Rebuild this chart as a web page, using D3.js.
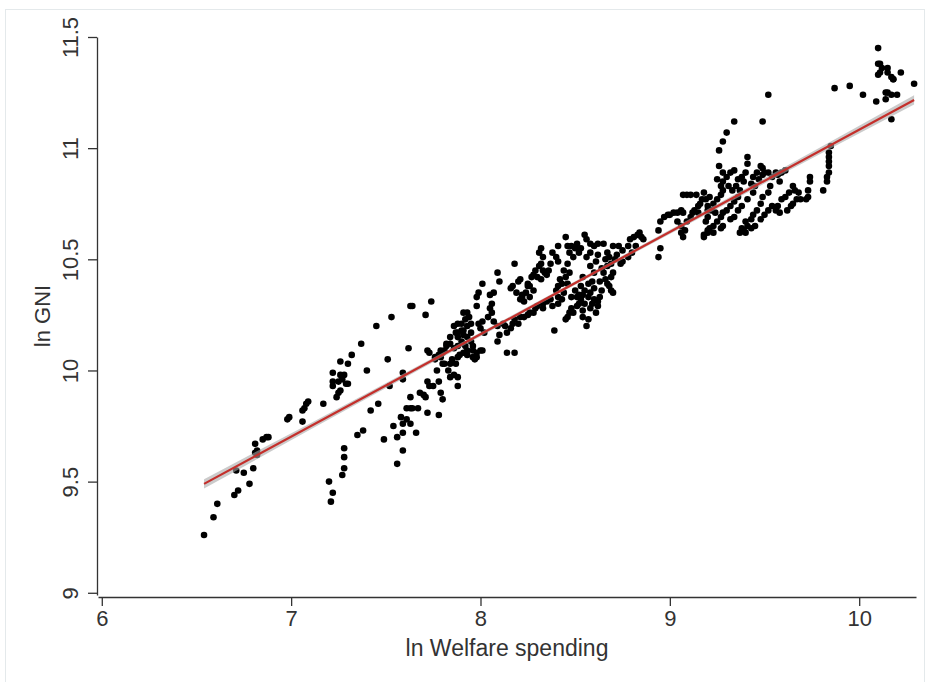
<!DOCTYPE html>
<html>
<head>
<meta charset="utf-8">
<script src="https://cdn.jsdelivr.net/npm/d3@7"></script>
<style>
  body { margin: 0; background: #fff; }
  text { font-family: "Liberation Sans", Arial, sans-serif; fill: #333; }
</style>
</head>
<body>
<div id="chart"></div>
<script>
// ln welfare spending (x) vs ln GNI (y)
var ptsLow = [[6.54,9.26],[6.59,9.34],[6.61,9.40],[6.70,9.44],[6.72,9.46],[6.71,9.55],[6.75,9.54],[6.78,9.49],
  [6.80,9.56],[6.81,9.63],[6.82,9.64],[6.81,9.67],[6.82,9.62],[6.85,9.69],[6.87,9.70],[6.88,9.70],[6.98,9.78],
  [6.99,9.79],[7.06,9.77],[7.06,9.82],[7.07,9.83],[7.08,9.85],[7.09,9.86],[7.17,9.85]];

var ptsA = [[7.22,9.99],[7.22,9.95],[7.22,9.93],[7.24,9.88],[7.25,9.90],[7.26,9.91],[7.26,9.98],[7.28,9.98],
  [7.25,9.95],[7.27,9.96],[7.29,9.94],[7.30,9.94],[7.26,10.04],[7.30,10.03],[7.32,10.07],[7.37,10.12],[7.40,10.00],
  [7.45,10.20],[7.53,10.24],[7.63,10.29],[7.64,10.29],[7.62,10.10],[7.51,10.05],[7.59,9.99],[7.59,9.96],[7.52,9.93],
  [7.46,9.85],[7.42,9.82],[7.38,9.73],[7.35,9.71],[7.28,9.65],[7.28,9.61],[7.28,9.56],[7.27,9.53],[7.20,9.50],
  [7.22,9.45],[7.21,9.41],[7.49,9.69],[7.54,9.75],[7.56,9.70],[7.58,9.79],[7.59,9.76],[7.59,9.72],[7.59,9.64],
  [7.56,9.58],[7.61,9.83],[7.63,9.83],[7.64,9.83],[7.67,9.83],[7.63,9.88],[7.61,9.78],[7.63,9.76],[7.66,9.72],
  [7.68,9.90],[7.70,9.89],[7.71,9.88],[7.72,9.81],[7.72,9.95],[7.73,9.93],[7.72,10.09],[7.73,10.08],[7.71,10.25]];

var ptsB = [[7.74,10.31],[7.75,9.93],[7.76,10.05],[7.77,10.00],[7.78,9.95],[7.79,10.09],[7.78,9.80],[7.79,9.90],
  [7.80,9.87],[7.82,10.12],[7.83,10.00],[7.84,9.97],[7.86,9.98],[7.88,9.97],[7.88,9.93],[7.81,10.03],[7.84,10.03],
  [7.85,10.05],[7.87,10.03],[7.88,10.06],[7.89,10.07],[7.86,10.10],[7.88,10.11],[7.90,10.13],[7.91,10.12],[7.92,10.11],
  [7.93,10.09],[7.91,10.08],[7.93,10.07],[7.88,10.17],[7.88,10.21],[7.90,10.21],[7.88,10.15],[7.91,10.16],[7.91,10.26],
  [7.93,10.26],[7.94,10.24],[7.95,10.21],[7.93,10.20],[7.95,10.17],[7.95,10.13],[7.96,10.11],[7.96,10.09],[7.97,10.05],
  [7.98,10.06],[7.98,10.29],[7.98,10.33],[7.99,10.35],[8.01,10.39],[7.99,10.21],[8.00,10.19],[8.01,10.22],[8.02,10.17],
  [8.01,10.09],[8.04,10.24],[8.05,10.28],[8.06,10.30],[8.05,10.34],[8.07,10.35],[8.06,10.26],[8.07,10.22],[8.09,10.20],
  [8.09,10.13],[8.09,10.44],[8.10,10.40],[7.91,10.18],[7.87,10.17],[7.93,10.15],[7.98,10.08],[8.00,10.09],[7.84,10.12],
  [7.82,10.11],[7.81,10.09],[7.80,10.08],[7.78,10.07],[7.79,10.06],[7.76,10.06],[7.80,10.03],[7.96,10.06],[7.84,10.15],
  [7.86,10.20],[7.90,10.18],[7.92,10.23]];

var ptsC = [[8.18,10.48],[8.16,10.37],[8.17,10.38],[8.20,10.40],[8.21,10.41],[8.19,10.35],[8.22,10.34],[8.24,10.35],
  [8.25,10.38],[8.25,10.39],[8.26,10.38],[8.27,10.42],[8.28,10.43],[8.29,10.45],[8.31,10.47],[8.32,10.48],[8.30,10.42],
  [8.32,10.41],[8.23,10.31],[8.21,10.32],[8.22,10.33],[8.26,10.33],[8.28,10.36],[8.33,10.45],[8.34,10.44],[8.36,10.45],
  [8.37,10.48],[8.35,10.43],[8.31,10.53],[8.32,10.55],[8.33,10.51],[8.38,10.53],[8.40,10.51],[8.41,10.49],[8.41,10.56],
  [8.45,10.60],[8.46,10.56],[8.47,10.53],[8.48,10.56],[8.50,10.55],[8.51,10.57],[8.52,10.53],[8.53,10.55],[8.49,10.51],
  [8.46,10.48],[8.44,10.45],[8.45,10.42],[8.43,10.39],[8.41,10.38],[8.40,10.36],[8.41,10.33],[8.42,10.41],[8.46,10.39],
  [8.47,10.44],[8.55,10.61],[8.56,10.59],[8.58,10.57],[8.60,10.56],[8.62,10.57],[8.56,10.51],[8.58,10.47],[8.61,10.49],
  [8.60,10.44],[8.54,10.42],[8.53,10.38],[8.55,10.36],[8.57,10.39],[8.59,10.40],[8.44,10.35],[8.48,10.33],[8.50,10.36],
  [8.52,10.34],[8.58,10.35],[8.60,10.37],[8.63,10.40],[8.64,10.46],[8.62,10.52],[8.58,10.53],[8.66,10.50]];

var ptsD = [[8.10,10.16],[8.13,10.20],[8.14,10.17],[8.16,10.19],[8.17,10.21],[8.14,10.08],[8.18,10.08],[8.12,10.21],
  [8.18,10.23],[8.20,10.21],[8.21,10.24],[8.23,10.24],[8.25,10.25],[8.26,10.26],[8.28,10.26],[8.29,10.28],[8.30,10.29],
  [8.33,10.28],[8.33,10.30],[8.35,10.31],[8.37,10.32],[8.38,10.29],[8.39,10.18],[8.41,10.30],[8.43,10.32],[8.45,10.23],
  [8.46,10.24],[8.47,10.26],[8.48,10.28],[8.49,10.26],[8.51,10.29],[8.52,10.30],[8.53,10.32],[8.54,10.27],[8.54,10.24],
  [8.56,10.20],[8.57,10.23],[8.58,10.28],[8.59,10.30],[8.60,10.32],[8.61,10.26],[8.62,10.31],[8.54,10.34],[8.51,10.33],
  [8.57,10.33],[8.55,10.30]];

var ptsE = [[8.65,10.57],[8.67,10.53],[8.68,10.51],[8.70,10.56],[8.69,10.48],[8.67,10.47],[8.65,10.44],[8.66,10.41],
  [8.67,10.39],[8.69,10.42],[8.70,10.44],[8.71,10.50],[8.72,10.52],[8.73,10.56],[8.75,10.54],[8.74,10.48],[8.75,10.49],
  [8.78,10.51],[8.78,10.56],[8.79,10.59],[8.80,10.53],[8.81,10.60],[8.83,10.61],[8.84,10.62],[8.85,10.60],[8.82,10.56],
  [8.69,10.36],[8.70,10.35],[8.68,10.38],[8.64,10.36],[8.63,10.33],[8.62,10.29],[8.86,10.59],[8.95,10.55],[8.94,10.51],
  [8.94,10.63],[8.95,10.67],[8.97,10.69],[8.99,10.70],[9.00,10.70],[9.02,10.71],[9.04,10.71],[9.06,10.72],[9.07,10.71],
  [9.04,10.67],[9.06,10.65],[9.06,10.62],[9.07,10.60],[9.08,10.63],[9.09,10.67],[9.11,10.69],[9.12,10.71],[9.13,10.72],
  [9.15,10.74],[9.16,10.75],[9.07,10.79],[9.09,10.79],[9.11,10.79],[9.14,10.79],[9.18,10.80],[9.17,10.77],[9.19,10.67],
  [9.18,10.60],[9.20,10.63],[9.20,10.69],[9.15,10.71]];

var ptsF = [[9.34,11.12],[9.49,11.12],[9.52,11.24],[9.30,11.07],[9.28,11.03],[9.26,10.99],[9.26,10.92],[9.28,10.89],
  [9.25,10.86],[9.27,10.83],[9.28,10.81],[9.19,10.77],[9.20,10.72],[9.20,10.74],[9.21,10.78],[9.23,10.75],[9.22,10.72],
  [9.24,10.71],[9.25,10.77],[9.27,10.79],[9.28,10.85],[9.30,10.87],[9.32,10.89],[9.34,10.90],[9.31,10.83],[9.33,10.81],
  [9.35,10.83],[9.36,10.86],[9.38,10.87],[9.40,10.89],[9.41,10.93],[9.41,10.96],[9.39,10.85],[9.37,10.81],[9.36,10.78],
  [9.34,10.76],[9.32,10.74],[9.30,10.72],[9.28,10.71],[9.27,10.69],[9.25,10.67],[9.23,10.65],[9.21,10.64],[9.20,10.62],
  [9.18,10.61],[9.23,10.62],[9.27,10.64],[9.28,10.65],[9.32,10.68],[9.34,10.69],[9.36,10.72],[9.38,10.74],[9.41,10.77],
  [9.44,10.80],[9.45,10.83],[9.47,10.86],[9.49,10.88],[9.50,10.89],[9.52,10.89],[9.48,10.92],[9.49,10.91],[9.46,10.89],
  [9.44,10.87],[9.43,10.84],[9.54,10.87],[9.56,10.89],[9.57,10.88],[9.59,10.89],[9.61,10.90],[9.58,10.85],[9.53,10.83],
  [9.52,10.80],[9.49,10.78],[9.48,10.75],[9.46,10.72],[9.44,10.70],[9.43,10.68],[9.41,10.65],[9.39,10.63],[9.37,10.62],
  [9.40,10.67],[9.43,10.64],[9.45,10.65],[9.48,10.68],[9.50,10.70],[9.52,10.72],[9.54,10.74],[9.56,10.72],[9.57,10.74],
  [9.59,10.77],[9.61,10.78],[9.58,10.71],[9.62,10.72],[9.64,10.74],[9.65,10.75],[9.67,10.77],[9.66,10.81],[9.68,10.80],
  [9.63,10.80],[9.65,10.83],[9.73,10.78],[9.73,10.81],[9.74,10.85],[9.74,10.87],[9.81,10.81],[9.69,10.77],[9.72,10.77],
  [9.38,10.64],[9.40,10.62]];

var ptsG = [[9.85,11.01],[9.84,10.98],[9.84,10.96],[9.84,10.94],[9.84,10.92],[9.84,10.89],[9.83,10.87],[9.83,10.85],
  [10.10,11.45],[10.10,11.38],[10.11,11.38],[10.12,11.36],[10.15,11.36],[10.15,11.34],[10.17,11.32],[10.18,11.31],
  [10.18,11.31],[10.10,11.33],[10.11,11.34],[10.22,11.34],[10.29,11.29],[9.87,11.27],[9.95,11.28],[10.02,11.24],
  [10.09,11.21],[10.14,11.22],[10.14,11.25],[10.15,11.25],[10.17,11.24],[10.20,11.24],[10.17,11.13]];

// fitted line with its confidence band
var fitX = [6.54, 7.4, 8.4, 9.4, 10.29];
var fitY = [9.49, 9.886, 10.347, 10.807, 11.217];
var fitLo = [9.469, 9.874, 10.339, 10.796, 11.196];
var fitHi = [9.511, 9.898, 10.355, 10.818, 11.238];

var xTicks = [6, 7, 8, 9, 10];
var yTicks = [9, 9.5, 10, 10.5, 11, 11.5];

var width = 928, height = 682;

var svg = d3.select("#chart").append("svg")
    .attr("width", width)
    .attr("height", height);

// light frame round the graph
svg.append("rect")
    .attr("x", 5.5).attr("y", 9.5)
    .attr("width", 919).attr("height", 690)
    .attr("fill", "none")
    .attr("stroke", "#e4e9eb");

var x = d3.scaleLinear().domain([5.98, 10.3]).range([98, 916]);
var y = d3.scaleLinear().domain([8.99, 11.5]).range([595, 37]);

var points = [].concat(ptsLow, ptsA, ptsB, ptsC, ptsD, ptsE, ptsF, ptsG);

svg.append("g").selectAll("circle")
    .data(points)
    .enter().append("circle")
    .attr("cx", function (d) { return x(d[0]); })
    .attr("cy", function (d) { return y(d[1]); })
    .attr("r", 3.3)
    .attr("fill", "#000");

var band = fitX.map(function (v, i) { return { x: v, y: fitY[i], lo: fitLo[i], hi: fitHi[i] }; });

svg.append("path")
    .datum(band)
    .attr("fill", "#a9a9a9")
    .attr("opacity", 0.6)
    .attr("d", d3.area()
        .curve(d3.curveMonotoneX)
        .x(function (d) { return x(d.x); })
        .y0(function (d) { return y(d.lo); })
        .y1(function (d) { return y(d.hi); }));

svg.append("path")
    .datum(band)
    .attr("fill", "none")
    .attr("stroke", "#c42f2b")
    .attr("stroke-width", 2.2)
    .attr("d", d3.line()
        .x(function (d) { return x(d.x); })
        .y(function (d) { return y(d.y); }));

// axes
var xAxis = svg.append("g")
    .attr("transform", "translate(0,597)")
    .call(d3.axisBottom(x).tickValues(xTicks).tickSize(9).tickSizeOuter(0).tickFormat(d3.format("d")));
xAxis.selectAll("text")
    .attr("y", 13)
    .style("font-size", "22px");

var yAxis = svg.append("g")
    .attr("transform", "translate(97,0)")
    .call(d3.axisLeft(y).tickValues(yTicks).tickSize(9).tickSizeOuter(0).tickFormat(function (d) { return d3.format("")(d); }));
yAxis.selectAll("text")
    .attr("x", 0)
    .attr("dy", 0)
    .attr("text-anchor", "middle")
    .attr("transform", "translate(-19,0) rotate(-90)")
    .style("font-size", "22px");

[xAxis, yAxis].forEach(function (g) {
    g.select(".domain").attr("stroke", "#333").attr("stroke-width", 1.3);
    g.selectAll(".tick line").attr("stroke", "#333").attr("stroke-width", 1.3);
    g.selectAll("text").style("fill", "#333");
});

svg.append("text")
    .attr("x", 507)
    .attr("y", 656)
    .attr("text-anchor", "middle")
    .style("font-size", "23px")
    .text("ln Welfare spending");

svg.append("text")
    .attr("transform", "translate(50,316) rotate(-90)")
    .attr("text-anchor", "middle")
    .style("font-size", "22px")
    .text("ln GNI");
</script>
</body>
</html>
